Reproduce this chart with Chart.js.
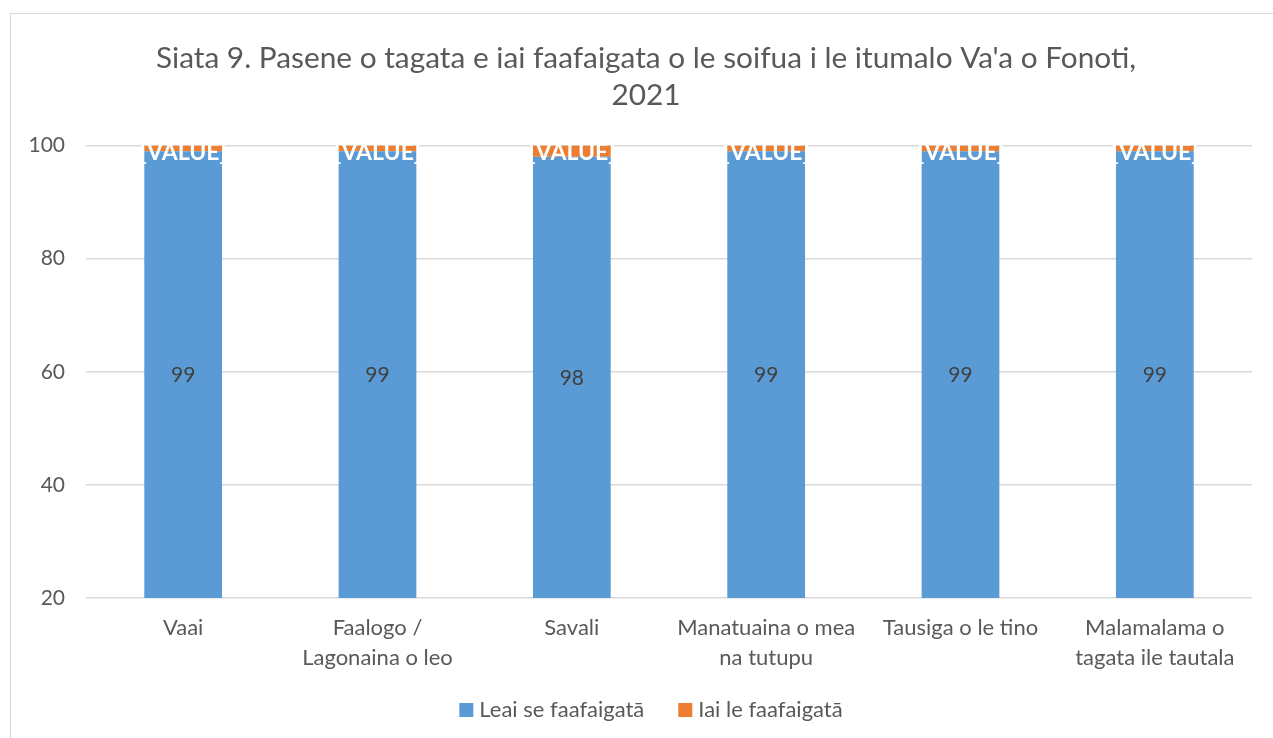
<!DOCTYPE html>
<html>
<head>
<meta charset="utf-8">
<script src="https://cdn.jsdelivr.net/npm/chart.js@4"></script>
<style>
  body { margin: 0; background: #fff; }
  #frame { position: absolute; left: 10px; top: 13px; width: 1280px; height: 740px; border: 1px solid #d9d9d9; }
  #wrap { position: absolute; left: 0; top: 0; width: 1273px; height: 738px; }
</style>
</head>
<body>
<div id="frame"></div>
<div id="wrap"><canvas id="chart"></canvas></div>
<script>
// categories and values
const categories = [
  "Vaai",
  ["Faalogo /", "Lagonaina o leo"],
  "Savali",
  ["Manatuaina o mea", "na tutupu"],
  "Tausiga o le tino",
  ["Malamalama o", "tagata ile tautala"]
];
const noDifficulty = [99, 99, 98, 99, 99, 99];   // Leai se faafaigatā
const someDifficulty = [1, 1, 2, 1, 1, 1];       // Iai le faafaigatā
const yTicks = [20, 40, 60, 80, 100];

const FONT = "Lato, 'Open Sans', sans-serif";

// value labels + legend drawn the way excel spaces them
const labelPlugin = {
  id: 'barLabels',
  afterLayout(chart) {
    // excel's chart box starts at the frame, so the title sits a bit right
    chart.titleBlock.left += 10;
    chart.titleBlock.right += 10;
  },
  afterDatasetsDraw(chart) {
    const ctx = chart.ctx;
    const y = chart.scales.y;
    ctx.save();
    ctx.textAlign = 'center';
    chart.getDatasetMeta(0).data.forEach((bar, i) => {
      const v = noDifficulty[i];
      const mid = (Math.max(y.min, 0) + v) / 2;
      ctx.fillStyle = '#404040';
      ctx.font = "21px " + FONT;
      ctx.textBaseline = 'middle';
      ctx.fillText(String(v), bar.x, y.getPixelForValue(mid) + 1);
    });
    chart.getDatasetMeta(1).data.forEach((bar, i) => {
      const top = noDifficulty[i] + someDifficulty[i];
      ctx.fillStyle = '#ffffff';
      ctx.font = "bold 23px " + FONT;
      ctx.textBaseline = 'alphabetic';
      ctx.fillText("[VALUE]", bar.x, y.getPixelForValue(top) + 14);
    });
    ctx.restore();
  },
  afterDraw(chart) {
    const ctx = chart.ctx;
    const sets = chart.data.datasets;
    ctx.save();
    ctx.font = "22px " + FONT;
    ctx.textBaseline = 'middle';
    ctx.textAlign = 'left';
    const box = 14, textGap = 6, itemGap = 34;
    const widths = sets.map(d => box + textGap + ctx.measureText(d.label).width);
    const total = widths.reduce((a, b) => a + b, 0) + itemGap * (sets.length - 1);
    let x = 651 - total / 2;
    const cy = 710;
    sets.forEach((d, i) => {
      ctx.fillStyle = d.backgroundColor;
      ctx.fillRect(x, cy - box / 2, box, box);
      ctx.fillStyle = '#595959';
      ctx.fillText(d.label, x + box + textGap, cy);
      x += widths[i] + itemGap;
    });
    ctx.restore();
  }
};

new Chart(document.getElementById('chart'), {
  type: 'bar',
  data: {
    labels: categories,
    datasets: [
      { label: "Leai se faafaigatā", data: noDifficulty, backgroundColor: '#5b9bd5',
        barPercentage: 0.4, categoryPercentage: 1 },
      { label: "Iai le faafaigatā", data: someDifficulty, backgroundColor: '#ed7d31',
        barPercentage: 0.4, categoryPercentage: 1 }
    ]
  },
  options: {
    responsive: true,
    maintainAspectRatio: false,
    animation: false,
    layout: { padding: { left: 20, right: 21, top: 40, bottom: 50 } },
    plugins: {
      title: {
        display: true,
        text: ["Siata 9. Pasene o tagata e iai faafaigata o le soifua i le itumalo Va'a o Fonoti,", "2021"],
        color: '#595959',
        font: { family: FONT, size: 29.8, weight: 'normal', lineHeight: 1.25 },
        padding: { top: 0, bottom: 31 }
      },
      legend: { display: false },
      tooltip: { enabled: false }
    },
    scales: {
      x: {
        stacked: true,
        grid: { display: false, drawTicks: false },
        border: { display: false },
        ticks: { color: '#595959', font: { family: FONT, size: 22, lineHeight: 1.364 }, padding: 15, maxRotation: 0, autoSkip: false }
      },
      y: {
        stacked: true,
        min: 20,
        max: 100,
        afterFit(scale) { scale.width = 66; },
        afterBuildTicks(scale) { scale.ticks = yTicks.map(v => ({ value: v })); },
        grid: { color: '#d9d9d9', drawTicks: false, lineWidth: 1.5 },
        border: { display: false },
        ticks: { color: '#595959', font: { family: FONT, size: 21 }, padding: 21 }
      }
    }
  },
  plugins: [labelPlugin]
});
</script>
</body>
</html>
